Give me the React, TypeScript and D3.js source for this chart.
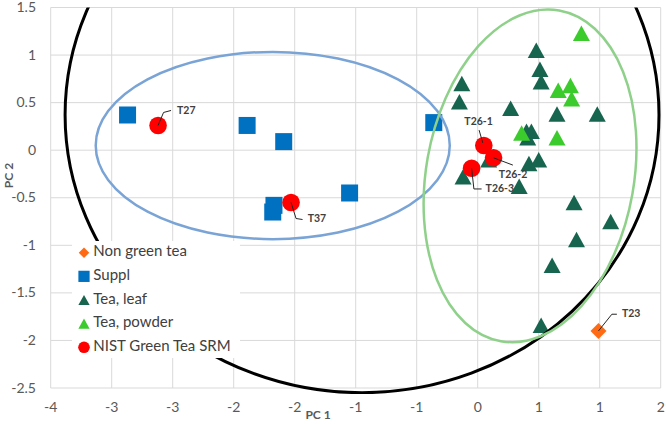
import React from "react";
import * as d3 from "d3";

// ---------- data ----------
const xTicks = [-3.5, -3, -2.5, -2, -1.5, -1, -0.5, 0, 0.5, 1, 1.5];
const xTickLabels = ["-4", "-3", "-3", "-2", "-2", "-1", "-1", "0", "1", "1", "2"];
const yTicks = [-2.5, -2, -1.5, -1, -0.5, 0, 0.5, 1, 1.5];
const yTickLabels = ["-2.5", "-2", "-1.5", "-1", "-0.5", "0", "0.5", "1", "1.5"];

const nonGreenTea = [{ x: 0.99, y: -1.9, label: "T23" }];
const suppl = [
  { x: -2.87, y: 0.37 },
  { x: -1.89, y: 0.26 },
  { x: -1.59, y: 0.09 },
  { x: -1.67, y: -0.58 },
  { x: -1.68, y: -0.65 },
  { x: -1.05, y: -0.45 },
  { x: -0.36, y: 0.29 },
];
const teaLeaf = [
  { x: 0.48, y: 1.05 },
  { x: 0.51, y: 0.85 },
  { x: 0.52, y: 0.72 },
  { x: -0.13, y: 0.7 },
  { x: -0.15, y: 0.51 },
  { x: 0.27, y: 0.44 },
  { x: 0.65, y: 0.38 },
  { x: 0.98, y: 0.38 },
  { x: 0.4, y: 0.2 },
  { x: 0.44, y: 0.2 },
  { x: 0.41, y: 0.13 },
  { x: 0.42, y: -0.14 },
  { x: 0.5, y: -0.1 },
  { x: -0.12, y: -0.28 },
  { x: 0.34, y: -0.38 },
  { x: 0.09, y: -0.1 },
  { x: 0.79, y: -0.55 },
  { x: 1.09, y: -0.75 },
  { x: 0.81, y: -0.94 },
  { x: 0.61, y: -1.21 },
  { x: 0.52, y: -1.84 },
];
const teaPowder = [
  { x: 0.85, y: 1.23 },
  { x: 0.66, y: 0.63 },
  { x: 0.76, y: 0.68 },
  { x: 0.77, y: 0.54 },
  { x: 0.36, y: 0.18 },
  { x: 0.65, y: 0.13 },
];
const nist = [
  { x: -2.62, y: 0.26, label: "T27" },
  { x: -1.53, y: -0.55, label: "T37" },
  { x: 0.05, y: 0.05, label: "T26-1" },
  { x: 0.13, y: -0.08, label: "T26-2" },
  { x: -0.05, y: -0.19, label: "T26-3" },
];
const legendNames = ["Non green tea", "Suppl", "Tea, leaf", "Tea, powder", "NIST Green Tea SRM"];

// ellipses in data units: center, radii, rotation (deg, screen)
const ellipses = [
  { cx: -0.948, cy: 0.371, rx: 2.434, ry: 2.92, rot: 0, color: "#000000", w: 3 },
  { cx: -1.68, cy: 0.049, rx: 1.451, ry: 0.984, rot: 0, color: "#7AA4D6", w: 2.5 },
  { cx: 0.429, cy: -0.27, rx: 0.852, ry: 1.765, rot: 10, color: "#8FD18A", w: 2.5 },
];

// ---------- layout ----------
const W = 666;
const H = 424;
const x = d3.scaleLinear().domain([-3.5, 1.5]).range([50.7, 660.7]);
const y = d3.scaleLinear().domain([-2.5, 1.5]).range([388, 7.5]);

const C = {
  nonGreen: "#FF6A13",
  suppl: "#0070C0",
  leaf: "#17654E",
  powder: "#3CCB2C",
  nist: "#FF0000",
  grid: "#D9D9D9",
  text: "#595959",
  label: "#404040",
};

const FONT = "Lato, 'Liberation Sans', sans-serif";

// label leader layout (pixels relative to the point)
const labelLayout: Record<string, { path: [number, number][]; tx: number; ty: number; anchor: string }> = {
  T27: { path: [[0, 0], [5.5, -13], [13, -15]], tx: 19, ty: -14, anchor: "start" },
  T37: { path: [[0, 0], [5, 16], [11.5, 17]], tx: 16.6, ty: 17, anchor: "start" },
  "T26-1": { path: [[-1, -2.5], [-4.7, -15.3]], tx: -5.2, ty: -23.3, anchor: "middle" },
  "T26-2": { path: [[0, 0], [19.3, 7.3]], tx: 5.3, ty: 18, anchor: "start" },
  "T26-3": { path: [[0, 0], [2.3, 20.7], [10, 20.7]], tx: 14, ty: 21, anchor: "start" },
  T23: { path: [[0, 0], [13.4, -16.7], [18.4, -16.7]], tx: 23.4, ty: -16.7, anchor: "start" },
};

function tri(cx: number, cy: number, w: number, h: number) {
  return `M${cx},${cy - h / 2}L${cx + w / 2},${cy + h / 2}L${cx - w / 2},${cy + h / 2}Z`;
}
function diamond(cx: number, cy: number, s: number) {
  return `M${cx},${cy - s / 2}L${cx + s / 2},${cy}L${cx},${cy + s / 2}L${cx - s / 2},${cy}Z`;
}

function Marker({ kind, cx, cy, scale = 1 }: { kind: number; cx: number; cy: number; scale?: number }) {
  if (kind === 0) return <path d={diamond(cx, cy, 16 * scale)} fill={C.nonGreen} />;
  if (kind === 1) {
    const s = 17 * scale;
    return <rect x={cx - s / 2} y={cy - s / 2} width={s} height={s} fill={C.suppl} />;
  }
  if (kind === 2) return <path d={tri(cx, cy, 17 * scale, 15.5 * scale)} fill={C.leaf} />;
  if (kind === 3) return <path d={tri(cx, cy, 17 * scale, 15.5 * scale)} fill={C.powder} />;
  return <circle cx={cx} cy={cy} r={8.8 * scale} fill={C.nist} />;
}

export default function App() {
  const [x0, x1] = x.range();
  const [yb, yt] = y.range();
  const labelled = [...nist, ...nonGreenTea];
  return (
    <svg
      width={W}
      height={H}
      style={{ position: "absolute", left: 0, top: 0, background: "#fff" }}
      fontFamily={FONT}
    >
      <rect width={W} height={H} fill="#fff" />
      {/* grid */}
      {xTicks.map((t) => (
        <line key={"gx" + t} x1={x(t)} x2={x(t)} y1={yt} y2={yb} stroke={C.grid} strokeWidth={1} />
      ))}
      {yTicks.map((t) => (
        <line key={"gy" + t} x1={x0} x2={x1} y1={y(t)} y2={y(t)} stroke={C.grid} strokeWidth={1} />
      ))}
      {/* tick labels */}
      {xTicks.map((t, i) => (
        <text key={"xl" + t} x={x(t)} y={408} textAnchor="middle" dominantBaseline="middle" fontSize={14} fill={C.text}>
          {xTickLabels[i]}
        </text>
      ))}
      {yTicks.map((t, i) => (
        <text key={"yl" + t} x={36} y={y(t) + 1} textAnchor="end" dominantBaseline="middle" fontSize={14} fill={C.text}>
          {yTickLabels[i]}
        </text>
      ))}
      {/* axis titles */}
      <text x={318} y={416} textAnchor="middle" dominantBaseline="middle" fontSize={12} fontWeight="bold" fill={C.text}>
        PC 1
      </text>
      <text
        transform={`translate(10,175.5) rotate(-90)`}
        textAnchor="middle"
        dominantBaseline="middle"
        fontSize={12}
        fontWeight="bold"
        fill={C.text}
      >
        PC 2
      </text>

      <defs>
        <clipPath id="plotclip">
          <rect x={0} y={yt} width={W} height={yb - yt + 6} />
        </clipPath>
      </defs>

      {/* markers */}
      <g>
        {suppl.map((d, i) => (
          <Marker key={"s" + i} kind={1} cx={x(d.x)} cy={y(d.y)} />
        ))}
        {teaLeaf.map((d, i) => (
          <Marker key={"l" + i} kind={2} cx={x(d.x)} cy={y(d.y)} />
        ))}
        {teaPowder.map((d, i) => (
          <Marker key={"p" + i} kind={3} cx={x(d.x)} cy={y(d.y)} />
        ))}
        {nonGreenTea.map((d, i) => (
          <Marker key={"n" + i} kind={0} cx={x(d.x)} cy={y(d.y)} />
        ))}
        {nist.map((d, i) => (
          <Marker key={"c" + i} kind={4} cx={x(d.x)} cy={y(d.y)} />
        ))}
      </g>

      {/* ellipses */}
      <g clipPath="url(#plotclip)">
        {ellipses.map((e, i) => {
          const kx = Math.abs(x(1) - x(0));
          const ky = Math.abs(y(1) - y(0));
          return (
            <ellipse
              key={"e" + i}
              transform={`translate(${x(e.cx)},${y(e.cy)}) rotate(${e.rot})`}
              rx={e.rx * kx}
              ry={e.ry * ky}
              fill="none"
              stroke={e.color}
              strokeWidth={e.w}
            />
          );
        })}
      </g>

      {/* labels */}
      {labelled.map((d) => {
        const L = labelLayout[d.label];
        const px = x(d.x);
        const py = y(d.y);
        const line = d3.line()(L.path.map(([a, b]) => [px + a, py + b] as [number, number]));
        return (
          <g key={d.label}>
            <path d={line || ""} fill="none" stroke="#262626" strokeWidth={1} />
            <text
              x={px + L.tx}
              y={py + L.ty}
              textAnchor={L.anchor}
              dominantBaseline="middle"
              fontSize={10.5}
              fontWeight="bold"
              fill={C.label}
            >
              {d.label}
            </text>
          </g>
        );
      })}

      {/* legend */}
      <rect x={72} y={241} width={168} height={117} fill="#fff" />
      {legendNames.map((n, i) => {
        const cy = 252.7 + i * 23.65;
        return (
          <g key={n}>
            <Marker kind={i} cx={84} cy={cy} scale={0.66} />
            <text x={93.3} y={cy} dominantBaseline="middle" fontSize={15} fill={C.label}>
              {n}
            </text>
          </g>
        );
      })}
    </svg>
  );
}
